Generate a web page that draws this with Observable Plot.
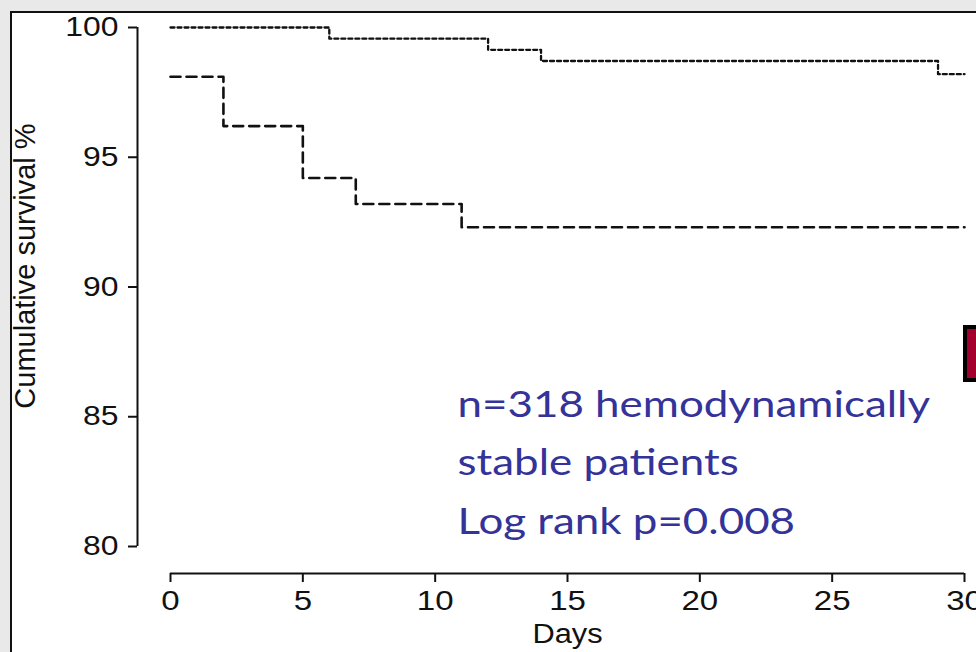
<!DOCTYPE html>
<html>
<head>
<meta charset="utf-8">
<script src="https://cdn.jsdelivr.net/npm/d3@7"></script>
<script src="https://cdn.jsdelivr.net/npm/@observablehq/plot@0.6"></script>
<style>
  html, body { margin: 0; padding: 0; }
  body { width: 976px; height: 652px; background: #e9e9e9; position: relative; overflow: hidden; }
  #panel { position: absolute; left: 10px; top: 11px; width: 980px; height: 660px; background: #ffffff;
           border-left: 2px solid #111; border-top: 2px solid #111; }
  #chart { position: absolute; left: 0; top: 0; }
  #marker { position: absolute; left: 963px; top: 325px; width: 30px; height: 57px; box-sizing: border-box;
            background: #a3002d; border: 4px solid #000; }
</style>
</head>
<body>
<div id="panel"></div>
<div id="marker"></div>
<div id="chart"></div>
<script>
// Kaplan–Meier steps, day of each event and survival (%) after it
const stableDays = [0, 6, 12, 14, 29, 30];
const stableSurvival = [100, 99.57, 99.14, 98.71, 98.2, 98.2];
const otherDays = [0, 2, 5, 7, 11, 30];
const otherSurvival = [98.1, 96.2, 94.2, 93.2, 92.3, 92.3];

const xTicks = [0, 5, 10, 15, 20, 25, 30];
const yTicks = [80, 85, 90, 95, 100];

const xTitle = "Days";
const yTitle = "Cumulative survival %";
const note = ["n=318 hemodynamically", "stable patients", "Log rank p=0.008"];

const stable = stableDays.map((d, i) => ({day: d, surv: stableSurvival[i]}));
const other = otherDays.map((d, i) => ({day: d, surv: otherSurvival[i]}));

const axisFont = "Liberation Sans, Arial, sans-serif";

const chart = Plot.plot({
  width: 976,
  height: 652,
  marginLeft: 170,
  marginRight: 12,
  marginTop: 27,
  marginBottom: 106,
  style: {background: "transparent", fontFamily: axisFont, color: "#111", overflow: "visible"},
  x: {domain: [0, 30]},
  y: {domain: [80, 100]},
  marks: [
    // detached R-style axes, offset from the plotting region
    Plot.ruleX([0], {y1: 80, y2: 100, dx: -33, stroke: "#111", strokeWidth: 2}),
    Plot.ruleY([80], {x1: 0, x2: 30, dy: 27, stroke: "#111", strokeWidth: 2}),
    Plot.axisY({ticks: yTicks, anchor: "left", dx: -33, tickSize: 9, tickPadding: 10,
                strokeWidth: 2, fontSize: 27, label: null, className: "wide"}),
    Plot.axisX({ticks: xTicks, anchor: "bottom", dy: 27, tickSize: 9, tickPadding: 8,
                strokeWidth: 2, fontSize: 28, label: null, className: "wide"}),
    Plot.text([yTitle], {frameAnchor: "left", textAnchor: "middle", rotate: -90, dx: -145, dy: -21,
                         fontSize: 29, fill: "#111"}),
    Plot.text([xTitle], {frameAnchor: "bottom", dy: 96, fontSize: 28, fill: "#111", className: "wide-days"}),
    // survival curves
    Plot.line(stable, {x: "day", y: "surv", curve: "step-after", stroke: "#111",
                       strokeWidth: 2.3, strokeDasharray: "4,3"}),
    Plot.line(other, {x: "day", y: "surv", curve: "step-after", stroke: "#111",
                      strokeWidth: 2.6, strokeDasharray: "10,6"}),
    // study annotation
    Plot.text([note.join("\n")], {frameAnchor: "top-left", dx: 287, dy: 348, textAnchor: "start",
                                  lineAnchor: "top", lineHeight: 1.62, fontSize: 36,
                                  fontFamily: "Lato, Open Sans, sans-serif", fill: "#333399",
                                  className: "wide-note"})
  ]
});
document.getElementById("chart").appendChild(chart);

// widen glyphs horizontally about each label's own anchor
function widen(selector, s) {
  chart.querySelectorAll(selector).forEach((el) => {
    const b = el.getBBox();
    const anchor = el.getAttribute("text-anchor") || getComputedStyle(el).textAnchor || "start";
    const ax = anchor === "end" ? b.x + b.width : anchor === "middle" ? b.x + b.width / 2 : b.x;
    const t = el.getAttribute("transform") || "";
    el.setAttribute("transform", `${t} translate(${ax},0) scale(${s},1) translate(${-ax},0)`);
  });
}
widen(".wide text", 1.18);
widen(".wide-days text", 1.1);
widen(".wide-note text", 1.22);
</script>
</body>
</html>
